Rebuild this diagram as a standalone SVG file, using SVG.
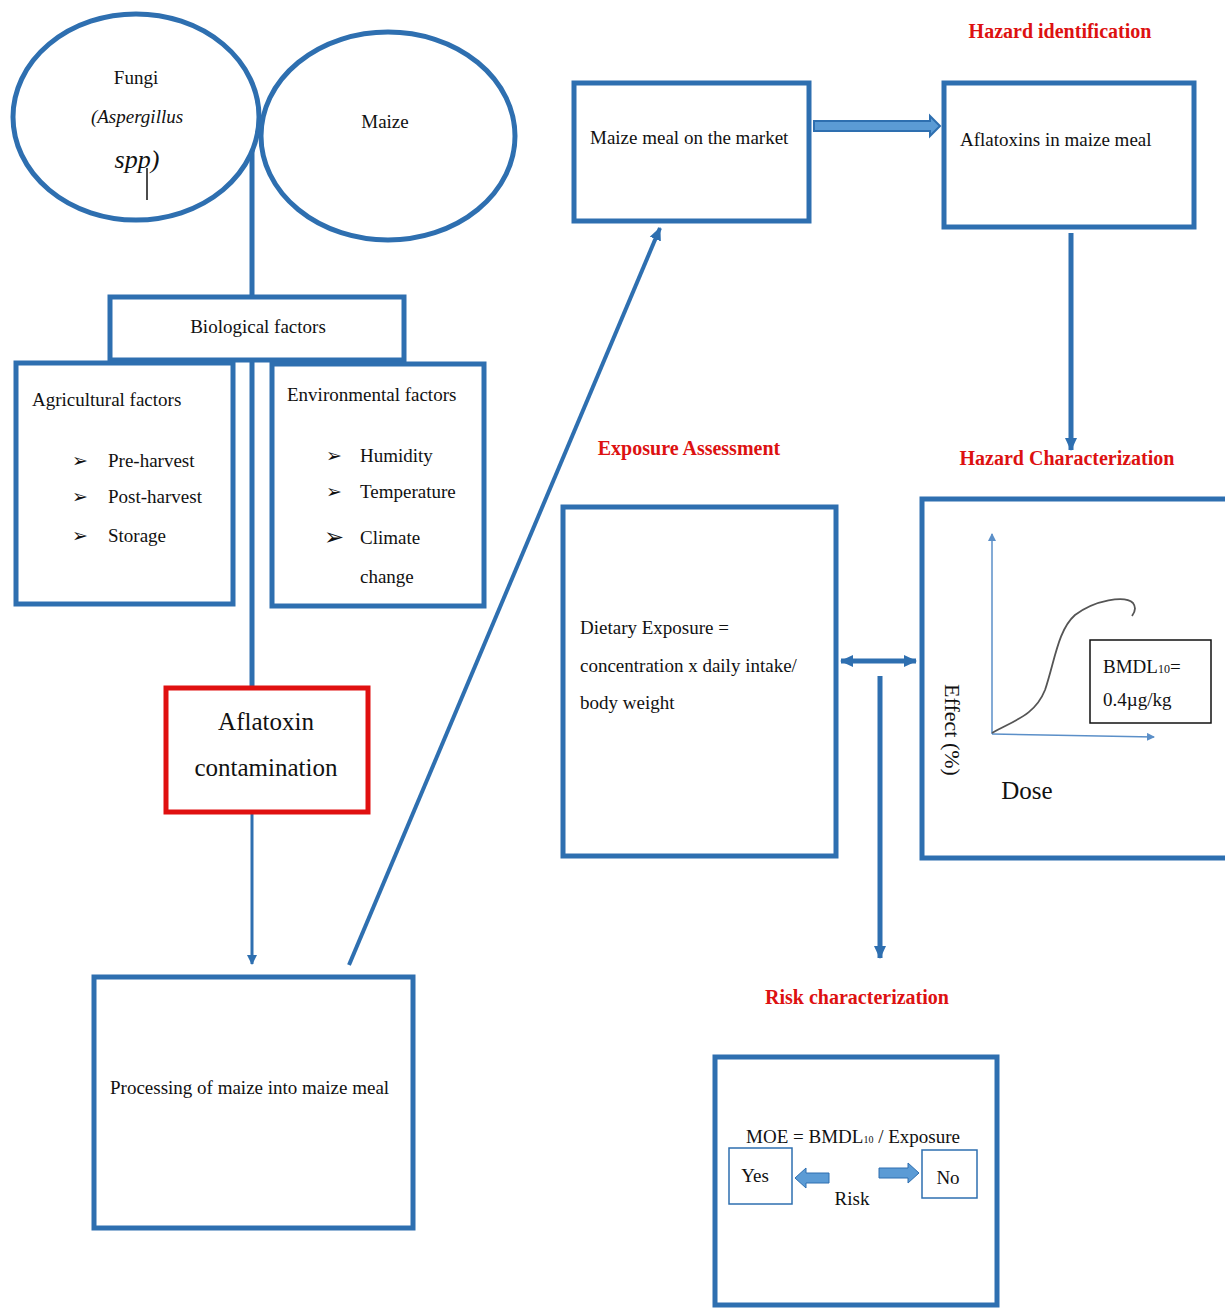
<svg xmlns="http://www.w3.org/2000/svg" width="1225" height="1308" viewBox="0 0 1225 1308">
<style>
.box{fill:#fff;stroke:#2e6fb0;stroke-width:5}
.red{fill:#fff;stroke:#e01010;stroke-width:5}
.ln{stroke:#2e6fb0;stroke-width:5;fill:none}
.t{font-family:"Liberation Serif",serif;font-size:19px;fill:#111}
.h{font-family:"Liberation Serif",serif;font-size:20px;font-weight:bold;fill:#dd1111}
.thin{stroke:#111;stroke-width:1.5;fill:#fff}
</style>
<defs>
<marker id="ah" markerWidth="14" markerHeight="14" refX="12" refY="7" orient="auto-start-reverse" markerUnits="userSpaceOnUse">
<path d="M0,1 L13,7 L0,13 z" fill="#2e6fb0"/>
</marker>
<marker id="ahs" markerWidth="10" markerHeight="10" refX="9" refY="5" orient="auto" markerUnits="userSpaceOnUse">
<path d="M0,0 L10,5 L0,10 z" fill="#2e6fb0"/>
</marker>
<marker id="sm" markerWidth="8" markerHeight="8" refX="7" refY="4" orient="auto" markerUnits="userSpaceOnUse">
<path d="M0,0 L8,4 L0,8 z" fill="#5b8fc8"/>
</marker>
</defs>
<rect width="1225" height="1308" fill="#fff"/>

<g id="connectors">
<line class="ln" x1="252" y1="150" x2="252" y2="298"/>
<line class="ln" x1="252" y1="360" x2="252" y2="688"/>
<line x1="252" y1="812" x2="252" y2="964" stroke="#2e6fb0" stroke-width="3" marker-end="url(#ahs)"/>
<line x1="349" y1="965" x2="660" y2="228" stroke="#2e6fb0" stroke-width="4" marker-end="url(#ah)"/>
<polygon points="814,121 930,121 930,116 940,126 930,136 930,131 814,131" fill="#5b9bd5" stroke="#2e6fb0" stroke-width="2"/>
<line x1="1071" y1="233" x2="1071" y2="450" stroke="#2e6fb0" stroke-width="5" marker-end="url(#ah)"/>
<line x1="841" y1="661" x2="916" y2="661" stroke="#2e6fb0" stroke-width="5" marker-start="url(#ah)" marker-end="url(#ah)"/>
<line x1="880" y1="676" x2="880" y2="958" stroke="#2e6fb0" stroke-width="5" marker-end="url(#ah)"/>
</g>

<g id="fungi">
<ellipse cx="136" cy="117" rx="123" ry="103" class="box"/>
<text class="t" x="136" y="84" text-anchor="middle">Fungi</text>
<text class="t" x="137" y="123" text-anchor="middle" style="font-style:italic">(Aspergillus</text>
<text class="t" x="137" y="168" text-anchor="middle" style="font-style:italic;font-size:26px">spp)</text>
<line x1="147" y1="168" x2="147" y2="200" stroke="#111" stroke-width="1.5"/>
</g>

<g id="maize">
<ellipse cx="388" cy="136" rx="127" ry="104" class="box"/>
<text class="t" x="385" y="128" text-anchor="middle">Maize</text>
</g>

<g id="biological">
<rect x="110" y="297" width="294" height="63" class="box"/>
<text class="t" x="258" y="333" text-anchor="middle">Biological factors</text>
</g>

<g id="agricultural">
<rect x="16" y="363" width="217" height="241" class="box"/>
<text class="t" x="32" y="406">Agricultural factors</text>
<text class="t" x="72" y="467">➢</text><text class="t" x="108" y="467">Pre-harvest</text>
<text class="t" x="72" y="503">➢</text><text class="t" x="108" y="503">Post-harvest</text>
<text class="t" x="72" y="542">➢</text><text class="t" x="108" y="542">Storage</text>
</g>

<g id="environmental">
<rect x="272" y="364" width="212" height="242" class="box"/>
<text class="t" x="287" y="401">Environmental factors</text>
<text class="t" x="326" y="462">➢</text><text class="t" x="360" y="462">Humidity</text>
<text class="t" x="326" y="498">➢</text><text class="t" x="360" y="498">Temperature</text>
<text class="t" x="324" y="545" style="font-size:24px">➢</text><text class="t" x="360" y="544">Climate</text>
<text class="t" x="360" y="583">change</text>
</g>

<g id="aflatoxin">
<rect x="166" y="688" width="202" height="124" class="red"/>
<text class="t" x="266" y="730" text-anchor="middle" style="font-size:25px">Aflatoxin</text>
<text class="t" x="266" y="776" text-anchor="middle" style="font-size:25px">contamination</text>
</g>

<g id="processing">
<rect x="94" y="977" width="319" height="251" class="box"/>
<text class="t" x="110" y="1094">Processing of maize into maize meal</text>
</g>

<g id="market">
<rect x="574" y="83" width="235" height="138" class="box"/>
<text class="t" x="590" y="144">Maize meal on the market</text>
</g>

<g id="hazard-id">
<text class="h" x="1060" y="38" text-anchor="middle">Hazard identification</text>
<rect x="944" y="83" width="250" height="144" class="box"/>
<text class="t" x="960" y="146">Aflatoxins in maize meal</text>
</g>

<g id="exposure">
<text class="h" x="689" y="455" text-anchor="middle">Exposure Assessment</text>
<rect x="563" y="507" width="273" height="349" class="box"/>
<text class="t" x="580" y="634">Dietary Exposure =</text>
<text class="t" x="580" y="672">concentration x daily intake/</text>
<text class="t" x="580" y="709">body weight</text>
</g>

<g id="hazard-char">
<text class="h" x="1067" y="465" text-anchor="middle">Hazard Characterization</text>
<rect x="922" y="499" width="310" height="359" class="box"/>
<line x1="992" y1="734" x2="992" y2="534" stroke="#5b8fc8" stroke-width="1.5" marker-end="url(#sm)"/>
<line x1="992" y1="734" x2="1154" y2="737" stroke="#5b8fc8" stroke-width="1.5" marker-end="url(#sm)"/>
<path d="M992,733 C1015,720 1035,715 1045,690 C1055,660 1058,630 1075,615 C1095,600 1125,595 1133,603 C1136,607 1135,612 1132,616" fill="none" stroke="#555" stroke-width="1.8"/>
<rect x="1090" y="640" width="121" height="83" class="thin"/>
<text class="t" x="1103" y="673">BMDL<tspan style="font-size:12px">10</tspan>=</text>
<text class="t" x="1103" y="706">0.4µg/kg</text>
<text class="t" x="945" y="730" text-anchor="middle" style="font-size:22px" transform="rotate(90 945 730)">Effect (%)</text>
<text class="t" x="1027" y="799" text-anchor="middle" style="font-size:25px">Dose</text>
</g>

<g id="risk">
<text class="h" x="857" y="1004" text-anchor="middle">Risk characterization</text>
<rect x="715" y="1057" width="282" height="248" class="box"/>
<text class="t" x="853" y="1143" text-anchor="middle">MOE = BMDL<tspan style="font-size:10px">10</tspan> / Exposure</text>
<rect x="729" y="1148" width="63" height="56" fill="#fff" stroke="#2e6fb0" stroke-width="1.5"/>
<text class="t" x="755" y="1182" text-anchor="middle">Yes</text>
<rect x="922" y="1150" width="55" height="48" fill="#fff" stroke="#2e6fb0" stroke-width="1.5"/>
<text class="t" x="948" y="1184" text-anchor="middle">No</text>
<polygon points="829,1173 806,1173 806,1168 795,1178 806,1188 806,1183 829,1183" fill="#5b9bd5" stroke="#2e6fb0" stroke-width="1"/>
<polygon points="879,1168 908,1168 908,1163 919,1173 908,1183 908,1178 879,1178" fill="#5b9bd5" stroke="#2e6fb0" stroke-width="1"/>
<text class="t" x="852" y="1205" text-anchor="middle">Risk</text>
</g>
</svg>
